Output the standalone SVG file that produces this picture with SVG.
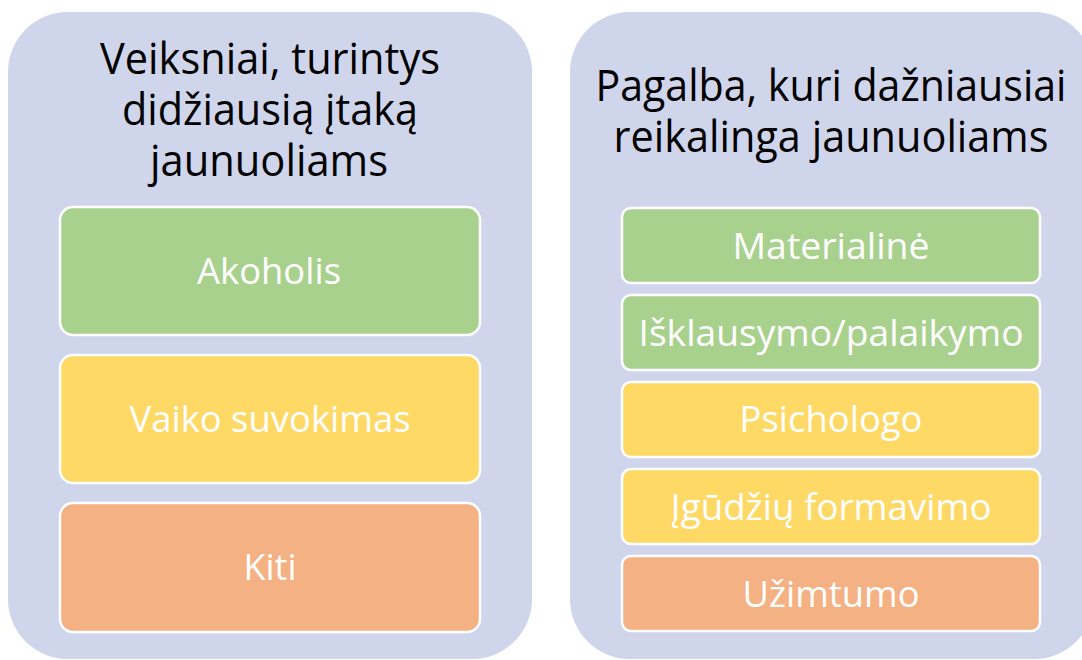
<svg xmlns="http://www.w3.org/2000/svg" width="1082" height="660" viewBox="0 0 1082 660">
<style>
.panel{fill:#CFD5EA}
.box{stroke:#FFFFFF;stroke-width:2.5}
.g{fill:#A9D18E}.y{fill:#FFD966}.o{fill:#F4B183}
.title{font-family:"Open Sans","Noto Sans",sans-serif;font-size:43px;fill:#000000;text-anchor:middle}
.lbl{font-family:"Open Sans","Noto Sans",sans-serif;font-size:37px;fill:#FFFFFF;text-anchor:middle}
</style>
<rect width="1082" height="660" fill="#FFFFFF"/>
<g id="panel-left">
<rect class="panel" x="8" y="12" width="524" height="647" rx="60" ry="60"/>
<text class="title" x="270" y="74" textLength="340" lengthAdjust="spacingAndGlyphs">Veiksniai, turintys</text>
<text class="title" x="270" y="125" textLength="296" lengthAdjust="spacingAndGlyphs">didžiausią įtaką</text>
<text class="title" x="269" y="176" textLength="238" lengthAdjust="spacingAndGlyphs">jaunuoliams</text>
</g>
<g id="node-akoholis">
<rect class="box g" x="60" y="207" width="420" height="128" rx="13"/>
<text class="lbl" x="269" y="284" textLength="144" lengthAdjust="spacingAndGlyphs">Akoholis</text>
</g>
<g id="node-vaiko">
<rect class="box y" x="60" y="355" width="420" height="128" rx="13"/>
<text class="lbl" x="270" y="432" textLength="281" lengthAdjust="spacingAndGlyphs">Vaiko suvokimas</text>
</g>
<g id="node-kiti">
<rect class="box o" x="60" y="503" width="420" height="129" rx="13"/>
<text class="lbl" x="270" y="580" textLength="53" lengthAdjust="spacingAndGlyphs">Kiti</text>
</g>
<g id="panel-right">
<rect class="panel" x="570" y="12" width="524" height="647" rx="60" ry="60"/>
<text class="title" x="831" y="101" textLength="471" lengthAdjust="spacingAndGlyphs">Pagalba, kuri dažniausiai</text>
<text class="title" x="831" y="152" textLength="435" lengthAdjust="spacingAndGlyphs">reikalinga jaunuoliams</text>
</g>
<g id="node-materialine">
<rect class="box g" x="622" y="208" width="418" height="75" rx="9"/>
<text class="lbl" x="831" y="259" textLength="197" lengthAdjust="spacingAndGlyphs">Materialinė</text>
</g>
<g id="node-isklausymo">
<rect class="box g" x="622" y="295" width="418" height="75" rx="9"/>
<text class="lbl" x="831" y="346" textLength="385" lengthAdjust="spacingAndGlyphs">Išklausymo/palaikymo</text>
</g>
<g id="node-psichologo">
<rect class="box y" x="622" y="382" width="418" height="75" rx="9"/>
<text class="lbl" x="831" y="432" textLength="183" lengthAdjust="spacingAndGlyphs">Psichologo</text>
</g>
<g id="node-igudziu">
<rect class="box y" x="622" y="469" width="418" height="75" rx="9"/>
<text class="lbl" x="831" y="520" textLength="321" lengthAdjust="spacingAndGlyphs">Įgūdžių formavimo</text>
</g>
<g id="node-uzimtumo">
<rect class="box o" x="622" y="556" width="418" height="75" rx="9"/>
<text class="lbl" x="831" y="607" textLength="177" lengthAdjust="spacingAndGlyphs">Užimtumo</text>
</g>
<g id="connectors"/>
</svg>
